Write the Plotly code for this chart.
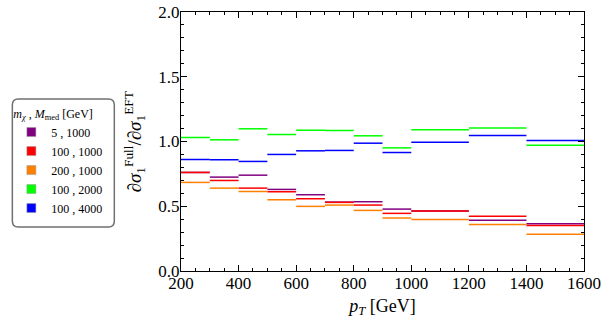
import plotly.graph_objects as go

# bin edges in pT [GeV]
pt_edges = [200, 300, 400, 500, 600, 700, 800, 900, 1000, 1200, 1400, 1600]

# ratio dsigma_full / dsigma_EFT per bin
labels = ["5 , 1000", "100 , 1000", "200 , 1000", "100 , 2000", "100 , 4000"]
ratio_5_1000 = [0.761, 0.725, 0.740, 0.630, 0.589, 0.532, 0.535, 0.478, 0.463, 0.391, 0.365]
ratio_100_1000 = [0.761, 0.699, 0.640, 0.612, 0.558, 0.530, 0.509, 0.445, 0.463, 0.422, 0.352]
ratio_200_1000 = [0.684, 0.640, 0.614, 0.550, 0.499, 0.509, 0.468, 0.409, 0.398, 0.360, 0.283]
ratio_100_2000 = [1.031, 1.013, 1.098, 1.054, 1.087, 1.085, 1.044, 0.951, 1.090, 1.105, 0.972]
ratio_100_4000 = [0.861, 0.859, 0.846, 0.900, 0.928, 0.931, 0.987, 0.915, 0.995, 1.046, 1.008]

series = [ratio_5_1000, ratio_100_1000, ratio_200_1000, ratio_100_2000, ratio_100_4000]
colors = ["#800080", "#ff0000", "#ff8000", "#00ff00", "#0000ff"]

SERIF = "Liberation Serif, Times New Roman, Times, serif"

fig = go.Figure()

for name, vals, col in zip(labels, series, colors):
    xs, ys = [], []
    for i, v in enumerate(vals):
        xs += [pt_edges[i], pt_edges[i + 1], None]
        ys += [v, v, None]
    fig.add_trace(go.Scatter(x=xs, y=ys, mode="lines", line=dict(color=col, width=1.5),
                             showlegend=False, hoverinfo="skip"))

# legend-only entries with square swatches
for name, col in zip(labels, colors):
    fig.add_trace(go.Scatter(x=[None], y=[None], mode="markers", name=name,
                             marker=dict(symbol="square", size=9, color=col,
                                         line=dict(color="#999999", width=0.5))))

W, H = 615, 327
ml, mr, mt, mb = 173, 31, 12, 56
pw, ph = W - ml - mr, H - mt - mb


def px_x(p):
    return (p - ml) / pw


def px_y(p):
    return (H - mb - p) / ph


# rounded legend box
x0, x1, y0, y1 = px_x(1), px_x(105), px_y(227), px_y(99)
rx, ry = 6 / pw, 6 / ph
path = (f"M {x0 + rx},{y0} L {x1 - rx},{y0} Q {x1},{y0} {x1},{y0 + ry} "
        f"L {x1},{y1 - ry} Q {x1},{y1} {x1 - rx},{y1} "
        f"L {x0 + rx},{y1} Q {x0},{y1} {x0},{y1 - ry} "
        f"L {x0},{y0 + ry} Q {x0},{y0} {x0 + rx},{y0} Z")
fig.add_shape(type="path", path=path, xref="paper", yref="paper",
              line=dict(color="#707070", width=1.5), fillcolor="white")

axis_common = dict(
    showline=True, linecolor="black", linewidth=1, mirror="ticks",
    ticks="inside", ticklen=6, tickcolor="black", tickwidth=1,
    showgrid=False, zeroline=False, automargin=False,
    ticklabelstandoff=-3,
    tickfont=dict(family=SERIF, size=17, color="black"),
)

fig.update_xaxes(range=[200, 1600], dtick=200, tick0=200,
                 minor=dict(dtick=50, ticklen=3, ticks="inside", tickcolor="black", showgrid=False),
                 title=dict(text="<i>p<sub>T</sub></i> [GeV]", standoff=6,
                            font=dict(family=SERIF, size=18, color="black")),
                 **axis_common)
fig.update_yaxes(range=[0, 2], dtick=0.5, tickformat=".1f",
                 minor=dict(dtick=0.1, ticklen=3, ticks="inside", tickcolor="black", showgrid=False),
                 **axis_common)

fig.add_annotation(
    text="∂<i>σ</i><sub>1</sub><sup>Full</sup>/∂<i>σ</i><sub>1</sub><sup>EFT</sup>",
    xref="paper", yref="paper", x=px_x(126), y=0.5, xanchor="center", yanchor="middle",
    textangle=-90, showarrow=False, font=dict(family=SERIF, size=19, color="black"))

fig.update_layout(
    width=W, height=H,
    margin=dict(l=ml, r=mr, t=mt, b=mb),
    plot_bgcolor="white", paper_bgcolor="white",
    font=dict(family=SERIF, color="black"),
    legend=dict(
        x=px_x(0), y=px_y(102), xanchor="left", yanchor="top",
        bgcolor="rgba(0,0,0,0)", borderwidth=0,
        itemwidth=30,
        title=dict(text="<i>m<sub>χ</sub></i> , <i>M</i><sub>med</sub> [GeV]",
                   font=dict(family=SERIF, size=12, color="black")),
        font=dict(family=SERIF, size=12, color="black"),
    ),
)

# the page body has an 8px default margin; drop it so the figure fills the window
fig.write_html("out.html", config={"displayModeBar": False},
               post_script="document.body.style.margin='0';")
